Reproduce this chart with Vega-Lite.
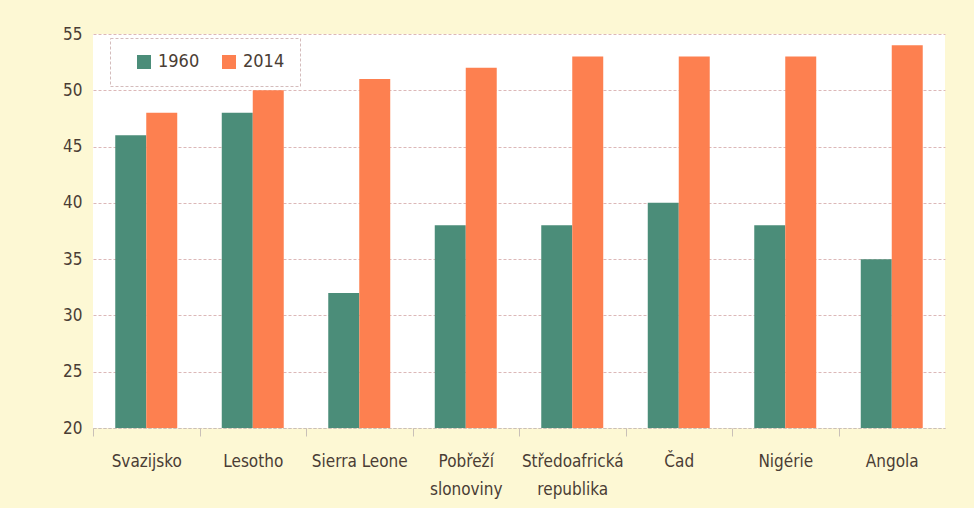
{
  "$schema": "https://vega.github.io/schema/vega-lite/v6.json",
  "width": 852,
  "height": 394,
  "autosize": {"type": "none"},
  "padding": {"left": 93, "top": 34, "right": 29, "bottom": 80},
  "background": "#fdf8d4",
  "view": {"fill": "#ffffff", "stroke": null},
  "config": {
    "font": "'DejaVu Sans Condensed', Roboto, sans-serif",
    "axis": {"labelFont": "'DejaVu Sans Condensed', Roboto, sans-serif", "labelColor": "#4a3d34", "labelFontSize": 17},
    "legend": {"strokeDash": [3, 2]}
  },
  "data": {
    "values": [
      {"country": "Svazijsko", "year": "1960", "value": 46},
      {"country": "Svazijsko", "year": "2014", "value": 48},
      {"country": "Lesotho", "year": "1960", "value": 48},
      {"country": "Lesotho", "year": "2014", "value": 50},
      {"country": "Sierra Leone", "year": "1960", "value": 32},
      {"country": "Sierra Leone", "year": "2014", "value": 51},
      {"country": "Pobřeží slonoviny", "year": "1960", "value": 38},
      {"country": "Pobřeží slonoviny", "year": "2014", "value": 52},
      {"country": "Středoafrická republika", "year": "1960", "value": 38},
      {"country": "Středoafrická republika", "year": "2014", "value": 53},
      {"country": "Čad", "year": "1960", "value": 40},
      {"country": "Čad", "year": "2014", "value": 53},
      {"country": "Nigérie", "year": "1960", "value": 38},
      {"country": "Nigérie", "year": "2014", "value": 53},
      {"country": "Angola", "year": "1960", "value": 35},
      {"country": "Angola", "year": "2014", "value": 54}
    ]
  },
  "mark": {"type": "bar", "clip": true},
  "encoding": {
    "x": {
      "field": "country",
      "type": "nominal",
      "sort": null,
      "scale": {"paddingInner": 0.418, "paddingOuter": 0.209},
      "axis": {
        "title": null,
        "labelAngle": 0,
        "domainColor": "#c9c0b8",
        "domainDash": [3, 2],
        "tickColor": "#c9c0b8",
        "tickSize": 8,
        "bandPosition": 0,
        "tickOffset": -22,
        "labelOffset": 22,
        "labelPadding": 17,
        "labelLineHeight": 28,
        "labelBaseline": "top",
        "labelExpr": "datum.label == 'Pobřeží slonoviny' ? ['Pobřeží', 'slonoviny'] : datum.label == 'Středoafrická republika' ? ['Středoafrická', 'republika'] : datum.label"
      }
    },
    "xOffset": {"field": "year", "type": "nominal", "scale": {"paddingInner": 0, "paddingOuter": 0}},
    "y": {
      "field": "value",
      "type": "quantitative",
      "scale": {"domain": [20, 55], "nice": false, "zero": false},
      "axis": {
        "title": null,
        "values": [20, 25, 30, 35, 40, 45, 50, 55],
        "domain": false,
        "ticks": false,
        "labelPadding": 11,
        "gridColor": "#dcb8b8",
        "gridDash": [3, 2],
        "gridWidth": 1
      }
    },
    "color": {
      "field": "year",
      "type": "nominal",
      "scale": {"domain": ["1960", "2014"], "range": ["#4b8d79", "#fd8050"]},
      "legend": {
        "title": null,
        "orient": "none",
        "legendX": 17,
        "legendY": 4,
        "direction": "horizontal",
        "symbolType": "square",
        "symbolSize": 196,
        "symbolStrokeWidth": 0,
        "labelFontSize": 18,
        "labelColor": "#4a3d34",
        "labelFont": "'DejaVu Sans Condensed', Roboto, sans-serif",
        "labelOffset": 5,
        "columnPadding": 10,
        "padding": 15,
        "strokeColor": "#d4bcbc",
        "symbolOffset": 10,
        "fillColor": "#ffffff"
      }
    }
  }
}
